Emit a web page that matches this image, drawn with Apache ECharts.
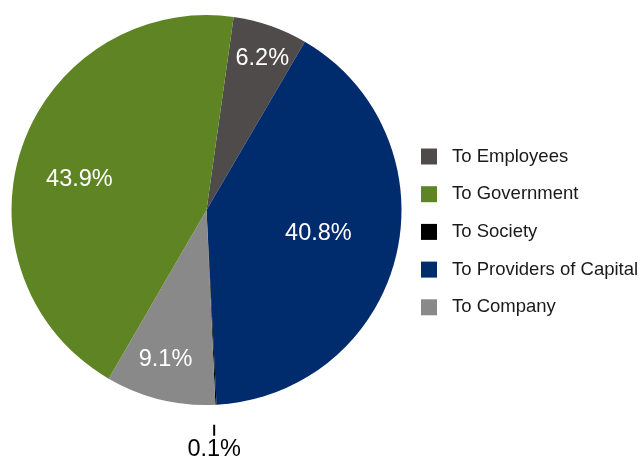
<!DOCTYPE html>
<html>
<head>
<meta charset="utf-8">
<script src="https://cdn.jsdelivr.net/npm/echarts@6/dist/echarts.min.js"></script>
<style>
  html, body { margin: 0; padding: 0; background: #fff; }
  #main { width: 644px; height: 459px; }
</style>
</head>
<body>
<div id="main"></div>
<script>
// slices in drawing order (clockwise from the top)
const categories = ['To Employees', 'To Providers of Capital', 'To Society', 'To Company', 'To Government'];
const shares = [6.2, 40.8, 0.1, 9.1, 43.9];
// legend keeps its own order
const legendOrder = ['To Employees', 'To Government', 'To Society', 'To Providers of Capital', 'To Company'];

const colors = ['#4f4b4a', '#002b6c', '#000000', '#898989', '#5e8423'];
// where each label sits: fraction of the radius, and a small turn (deg) off the bisector
const labelRadius = [0.83, 0.587, 1.18, 0.793, 0.67];
const labelTurn = [1, -1.6, 1, 1.6, -5.6];

const cx = 206.5, cy = 210, R = 195;

const chart = echarts.init(document.getElementById('main'));

const option = {
    animation: false,
    color: colors,
    legend: {
        data: legendOrder,
        orient: 'vertical',
        left: 421,
        top: 147,
        padding: 0,
        itemWidth: 16,
        itemHeight: 16,
        itemGap: 18.7,
        icon: 'rect',
        selectedMode: false,
        textStyle: {
            fontFamily: 'Liberation Sans, Arial, Helvetica, sans-serif',
            fontSize: 18.5,
            lineHeight: 18,
            color: '#1a1a1a',
            padding: [0, 0, 0, 10]
        }
    },
    series: [
        {
            type: 'pie',
            center: [cx, cy],
            radius: [0, R],
            startAngle: 82,
            clockwise: true,
            avoidLabelOverlap: false,
            itemStyle: { borderWidth: 0 },
            emphasis: { disabled: true },
            label: {
                show: true,
                position: 'inside',
                fontFamily: 'Liberation Sans, Arial, Helvetica, sans-serif',
                fontSize: 23.5,
                color: '#fff',
                formatter: function (p) {
                    if (p.dataIndex === 2) return '{t|}\n{s|' + p.value + '%}';
                    return p.value + '%';
                },
                rich: {
                    t: { width: 2, height: 11, backgroundColor: '#000' },
                    s: { color: '#000', fontSize: 23.5, lineHeight: 28 }
                }
            },
            labelLine: { show: false },
            labelLayout: function (params) {
                const r = params.labelRect;
                const lx = r.x + r.width / 2, ly = r.y + r.height / 2;
                const vx = lx - cx, vy = ly - cy;
                const len = Math.sqrt(vx * vx + vy * vy);
                const t = labelTurn[params.dataIndex] * Math.PI / 180;
                const s = labelRadius[params.dataIndex] * R / len;
                const nx = (vx * Math.cos(t) - vy * Math.sin(t)) * s;
                const ny = (vx * Math.sin(t) + vy * Math.cos(t)) * s;
                return { dx: nx - vx, dy: ny - vy };
            },
            data: categories.map((name, i) => ({ name: name, value: shares[i] }))
        }
    ]
};

chart.setOption(option);
</script>
</body>
</html>
